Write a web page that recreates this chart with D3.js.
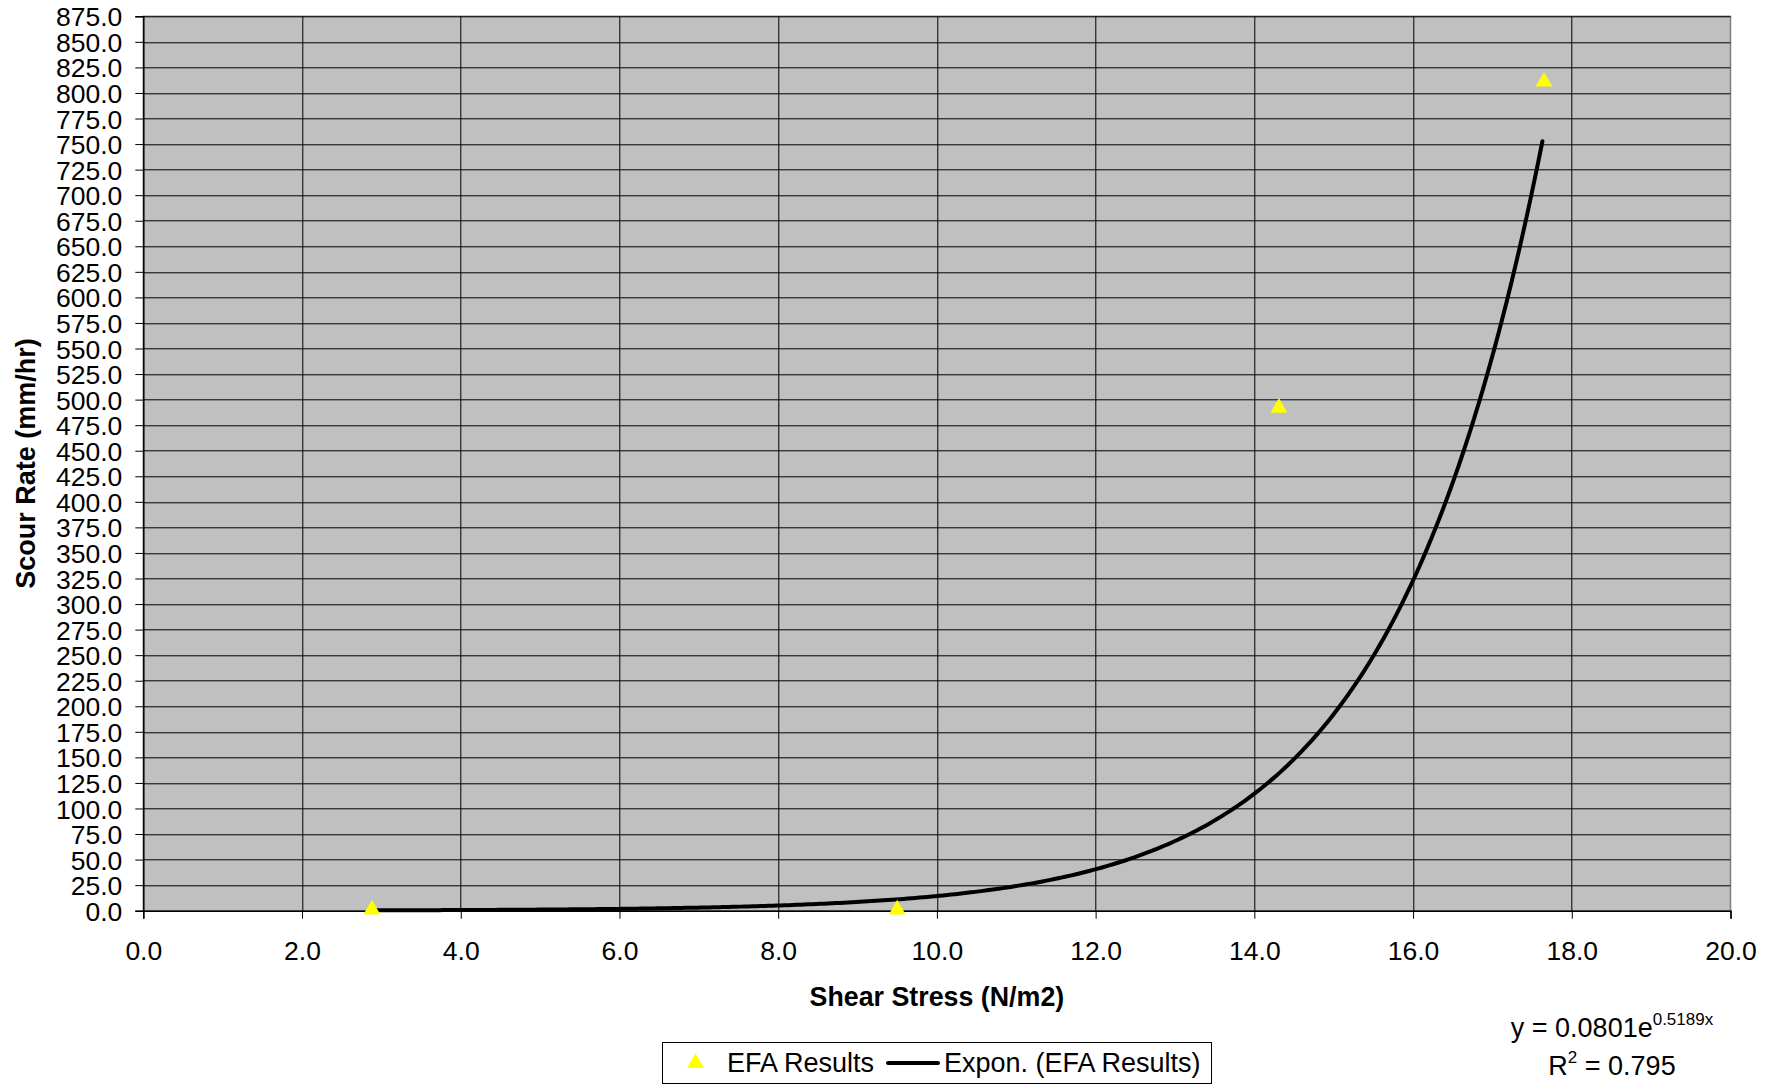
<!DOCTYPE html>
<html>
<head>
<meta charset="utf-8">
<script src="https://cdn.jsdelivr.net/npm/d3@7"></script>
<style>
  body { margin: 0; background: #fff; }
  text { font-family: "Liberation Sans", Arial, sans-serif; }
</style>
</head>
<body>
<svg class="chart"></svg>
<script>
// EFA results (shear stress vs scour rate)
const shearStress = [2.88, 9.5, 14.31, 17.65];
const scourRate = [1.0, 1.0, 492, 811];

// exponential trend line as printed on the chart
const trendA = 0.0801, trendB = 0.5189;
const eqText = "y = 0.0801e", eqExp = "0.5189x", r2Text = " = 0.795";

const xMax = 20, yMax = 875, yStep = 25;

const W = 1780, H = 1084;
const margin = { top: 16.3, right: 49.5, bottom: 173.3, left: 143.3 },
  width = W - margin.left - margin.right,
  height = H - margin.top - margin.bottom;

const svg = d3.select('.chart').attr('width', W).attr('height', H);
const g = svg.append('g').attr('transform', `translate(${margin.left},${margin.top})`);

const x = d3.scaleLinear().domain([0, xMax]).range([0, width]);
const y = d3.scaleLinear().domain([0, yMax]).range([height, 0]);
const yTicks = d3.range(0, yMax + 1, yStep);
const xTicks = x.ticks(10);

// plot area
g.append('rect').attr('width', width).attr('height', height)
  .attr('fill', '#c0c0c0').attr('stroke', '#808080').attr('stroke-width', 1.5);

// gridlines
g.selectAll('.hgrid').data(yTicks.slice(1)).join('line').attr('class', 'hgrid')
  .attr('x1', 0).attr('x2', width)
  .attr('y1', d => Math.round(y(d)) + 0.5).attr('y2', d => Math.round(y(d)) + 0.5)
  .attr('stroke', '#000').attr('stroke-width', 1);
g.selectAll('.vgrid').data(xTicks.slice(1, -1)).join('line').attr('class', 'vgrid')
  .attr('y1', 0).attr('y2', height)
  .attr('x1', d => Math.round(x(d)) + 0.5).attr('x2', d => Math.round(x(d)) + 0.5)
  .attr('stroke', '#000').attr('stroke-width', 1);

// axes
const xAxis = g.append('g').attr('transform', `translate(0,${height})`)
  .call(d3.axisBottom(x).tickValues(xTicks).tickFormat(d3.format('.1f')).tickSize(8).tickPadding(22));
const yAxis = g.append('g')
  .call(d3.axisLeft(y).tickValues(yTicks).tickFormat(d3.format('.1f')).tickSize(8).tickPadding(13));
[xAxis, yAxis].forEach(a => {
  a.selectAll('text').style('font-size', '26.5px').attr('fill', '#000');
  a.selectAll('line').attr('stroke', '#000');
  a.select('.domain').attr('stroke', '#000').attr('stroke-width', 1.5);
});
yAxis.selectAll('text').attr('dy', '0.36em');

// trend line
const trendPts = d3.range(d3.min(shearStress), d3.max(shearStress) + 0.001, 0.05)
  .map(v => [v, trendA * Math.exp(trendB * v)]);
g.append('path').datum(trendPts)
  .attr('d', d3.line().x(d => x(d[0])).y(d => y(d[1])).curve(d3.curveMonotoneX))
  .attr('fill', 'none').attr('stroke', '#000').attr('stroke-width', 4).attr('stroke-linecap', 'round');

// data points
const tri = d3.symbol().type(d3.symbolTriangle).size(125);
g.selectAll('.pt').data(shearStress).join('path').attr('class', 'pt')
  .attr('transform', (d, i) => `translate(${x(d)},${y(scourRate[i])})`)
  .attr('d', tri).attr('fill', '#ffff00');

// axis titles
svg.append('text').attr('x', margin.left + width / 2).attr('y', 1006)
  .attr('text-anchor', 'middle').style('font-size', '26.8px').style('font-weight', 'bold')
  .text('Shear Stress (N/m2)');
svg.append('text').attr('transform', `translate(35,${margin.top + height / 2}) rotate(-90)`)
  .attr('text-anchor', 'middle').style('font-size', '27px').style('font-weight', 'bold')
  .text('Scour Rate (mm/hr)');

// equation
const eq = svg.append('text').attr('x', 1612).attr('y', 1037).attr('text-anchor', 'middle')
  .style('font-size', '27px');
eq.append('tspan').text(eqText);
eq.append('tspan').attr('dy', -12).style('font-size', '17px').text(eqExp);
const r2 = svg.append('text').attr('x', 1612).attr('y', 1075).attr('text-anchor', 'middle')
  .style('font-size', '27px');
r2.append('tspan').text('R');
r2.append('tspan').attr('dy', -12).style('font-size', '17px').text('2');
r2.append('tspan').attr('dy', 12).text(r2Text);

// legend
const legend = svg.append('g').attr('transform', 'translate(662,1042)');
legend.append('rect').attr('x', 0.5).attr('y', 0.5).attr('width', 549).attr('height', 41)
  .attr('fill', '#fff').attr('stroke', '#000').attr('stroke-width', 1);
legend.append('path').attr('transform', 'translate(33.5,21)').attr('d', tri).attr('fill', '#ffff00');
legend.append('text').attr('x', 65).attr('y', 30).style('font-size', '27px').text('EFA Results');
legend.append('line').attr('x1', 226).attr('x2', 276).attr('y1', 21).attr('y2', 21)
  .attr('stroke', '#000').attr('stroke-width', 4).attr('stroke-linecap', 'round');
legend.append('text').attr('x', 282).attr('y', 30).style('font-size', '27px').text('Expon. (EFA Results)');
</script>
</body>
</html>
